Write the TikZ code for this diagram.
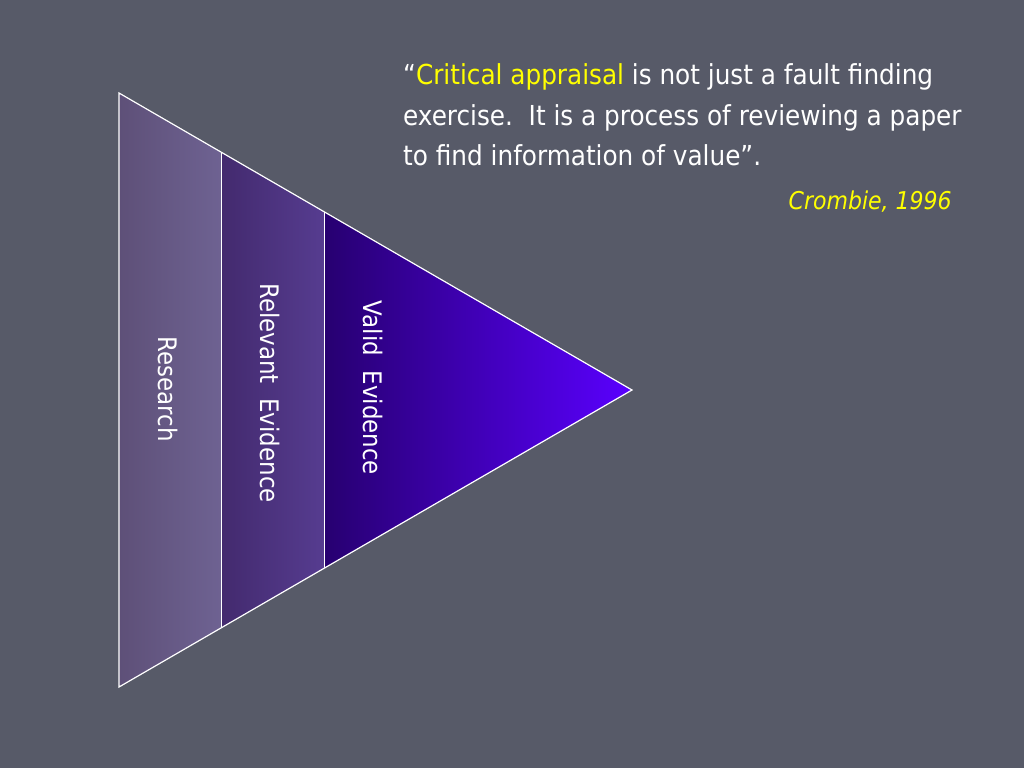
\documentclass[tikz,border=0pt]{standalone}
\usepackage{fontspec}
\setmainfont{DejaVu Sans Condensed}
\usetikzlibrary{calc}
\definecolor{bg}{HTML}{575A68}
\definecolor{resA}{HTML}{5E5078}
\definecolor{resB}{HTML}{6E6292}
\definecolor{relA}{HTML}{432A6E}
\definecolor{relB}{HTML}{563C90}
\definecolor{valA}{HTML}{270070}
\definecolor{valB}{HTML}{5A00FF}
\definecolor{quoteyellow}{HTML}{FFFF00}
\tikzset{
  band/.style={line width=1.2pt, draw=white},
  quoteline/.style={anchor=base west, inner sep=0pt, text=white, font=\fontsize{27.5}{27.5}\selectfont},
  bandlabel/.style={rotate=-90, text=white, inner sep=0pt, font=\fontsize{25.5}{25.5}\selectfont}
}
\begin{document}
\begin{tikzpicture}[x=1pt,y=-1pt]
\fill[bg] (0,0) rectangle (1024,768);
\useasboundingbox (0,0) rectangle (1024,768);
% vertices
\coordinate (tl) at (119,93);
\coordinate (bl) at (119,687);
\coordinate (tip) at (632,390);
\coordinate (t1) at (221,152.1);
\coordinate (b1) at (221,627.9);
\coordinate (t2) at (324,211.7);
\coordinate (b2) at (324,568.3);
% bands
\shade[left color=resA, right color=resB] (tl) -- (t1) -- (b1) -- (bl) -- cycle;
\shade[left color=relA, right color=relB] (t1) -- (t2) -- (b2) -- (b1) -- cycle;
\shade[left color=valA, right color=valB] (t2) -- (tip) -- (b2) -- cycle;
\draw[band, line width=0.9pt] (t1) -- (b1);
\draw[band, line width=0.9pt] (t2) -- (b2);
\draw[band, line join=miter] (tl) -- (tip) -- (bl) -- cycle;
% labels
\node[bandlabel] (research) at (168,389) {Research};
\node[bandlabel] (relevant) at (270,393) {Relevant\ \ Evidence};
\node[bandlabel] (valid) at (373,388) {Valid\ \ Evidence};
% quote
\node[quoteline] (q1) at (403,84) {“\textcolor{quoteyellow}{Critical appraisal} is not just a fault finding};
\node[quoteline] (q2) at (403,125) {exercise.\ \ It is a process of reviewing a paper};
\node[quoteline] (q3) at (403,165) {to find information of value”.};
\node[anchor=base east, inner sep=0pt, text=quoteyellow, font=\fontsize{24.5}{24.5}\selectfont\itshape] (cite) at (952,209) {Crombie, 1996};
\end{tikzpicture}
\end{document}
